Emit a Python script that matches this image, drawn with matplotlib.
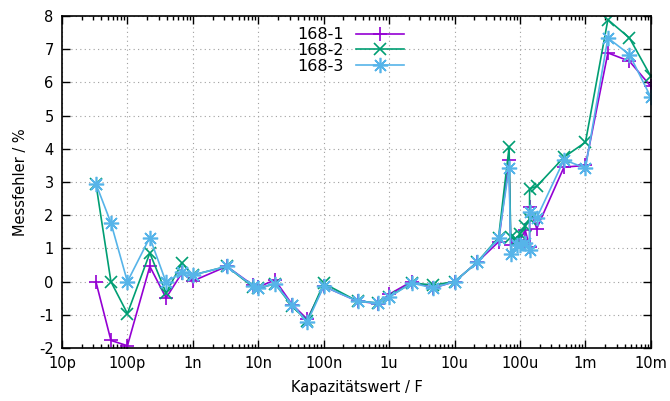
import numpy as np
import matplotlib
matplotlib.use('Agg')
from matplotlib import pyplot as plt
from matplotlib.ticker import FixedLocator, LogLocator, NullFormatter

# Data (capacitance in F, error in %)
kap = [33e-12, 56e-12, 100e-12, 220e-12, 390e-12, 680e-12, 1e-9, 3.3e-9, 8.2e-9, 10e-9,
       18e-9, 33e-9, 56e-9, 100e-9, 330e-9, 680e-9, 1e-6, 2.2e-6, 4.7e-6, 10e-6,
       22e-6, 47e-6, 68e-6, 72e-6, 90e-6, 100e-6, 120e-6, 140e-6, 140e-6, 180e-6,
       470e-6, 1e-3, 2.2e-3, 4.7e-3, 10e-3]
s1 = [0.0, -1.77, -1.93, 0.46, -0.49, 0.26, 0.02, 0.46, -0.1, -0.16,
      0.05, -0.69, -1.13, -0.14, -0.59, -0.66, -0.38, 0.0, -0.19, 0.0,
      0.58, 1.2, 3.65, 1.1, 1.15, 1.25, 1.55, 1.05, 2.25, 1.6,
      3.45, 3.5, 6.89, 6.64, 5.88]
s2 = [2.95, 0.0, -0.96, 0.86, -0.34, 0.56, 0.2, 0.46, -0.15, -0.2,
      -0.06, -0.74, -1.18, -0.05, -0.59, -0.64, -0.45, -0.04, -0.1, 0.0,
      0.58, 1.33, 4.05, 1.36, 1.25, 1.45, 1.67, 1.9, 2.8, 2.87,
      3.75, 4.2, 7.89, 7.34, 6.18]
s3 = [2.95, 1.77, 0.0, 1.33, -0.02, 0.28, 0.2, 0.46, -0.12, -0.18,
      -0.08, -0.69, -1.22, -0.14, -0.59, -0.64, -0.47, -0.04, -0.19, 0.0,
      0.58, 1.3, 3.42, 0.84, 1.1, 1.1, 1.15, 0.95, 2.1, 1.92,
      3.67, 3.42, 7.34, 6.84, 5.55]
labels = ['168-1', '168-2', '168-3']
xticklabels = ['10p', '100p', '1n', '10n', '100n', '1u', '10u', '100u', '1m', '10m']

plt.rcParams['font.family'] = ['DejaVu Sans']
plt.rcParams['font.size'] = 10.5
plt.rcParams['axes.unicode_minus'] = False

fig = plt.figure(figsize=(6.7, 4.01), dpi=100)
ax = fig.add_axes([0.0925, 0.132, 0.879, 0.828])

ax.plot(kap, s1, color='#9400d3', lw=1.2, marker='+', ms=10, mew=1.2, label=labels[0])
ax.plot(kap, s2, color='#009e73', lw=1.2, marker='x', ms=8, mew=1.2, label=labels[1])
ax.plot(kap, s3, color='#56b4e9', lw=1.2, marker=(8, 2, 0), ms=11, mew=1.2, label=labels[2])

ax.set_xscale('log')
ax.set_xlim(1e-11, 1e-2)
ax.set_ylim(-2, 8)
ax.xaxis.set_major_locator(FixedLocator([10.0 ** e for e in range(-11, -1)]))
ax.set_xticklabels(xticklabels)
ax.xaxis.set_minor_locator(LogLocator(base=10, subs=np.arange(2, 10), numticks=20))
ax.xaxis.set_minor_formatter(NullFormatter())
ax.set_yticks(range(-2, 9))

ax.tick_params(which='both', direction='in', top=True, right=True, width=1)
ax.tick_params(which='major', length=6, pad=6)
ax.tick_params(which='minor', length=3)
ax.grid(True, which='major', color='#a0a0a0', linestyle=(0, (1, 3)), linewidth=0.8)
for sp in ax.spines.values():
    sp.set_linewidth(1.2)

ax.set_xlabel('Kapazitätswert / F', labelpad=6)
ax.set_ylabel('Messfehler / %', labelpad=8)

ax.legend(loc='upper center', bbox_to_anchor=(0.49, 1.0), frameon=False, markerfirst=False,
          handlelength=3, labelspacing=0.05, borderaxespad=0.3, fontsize=11.5)

fig.savefig('out.png', dpi=100)
